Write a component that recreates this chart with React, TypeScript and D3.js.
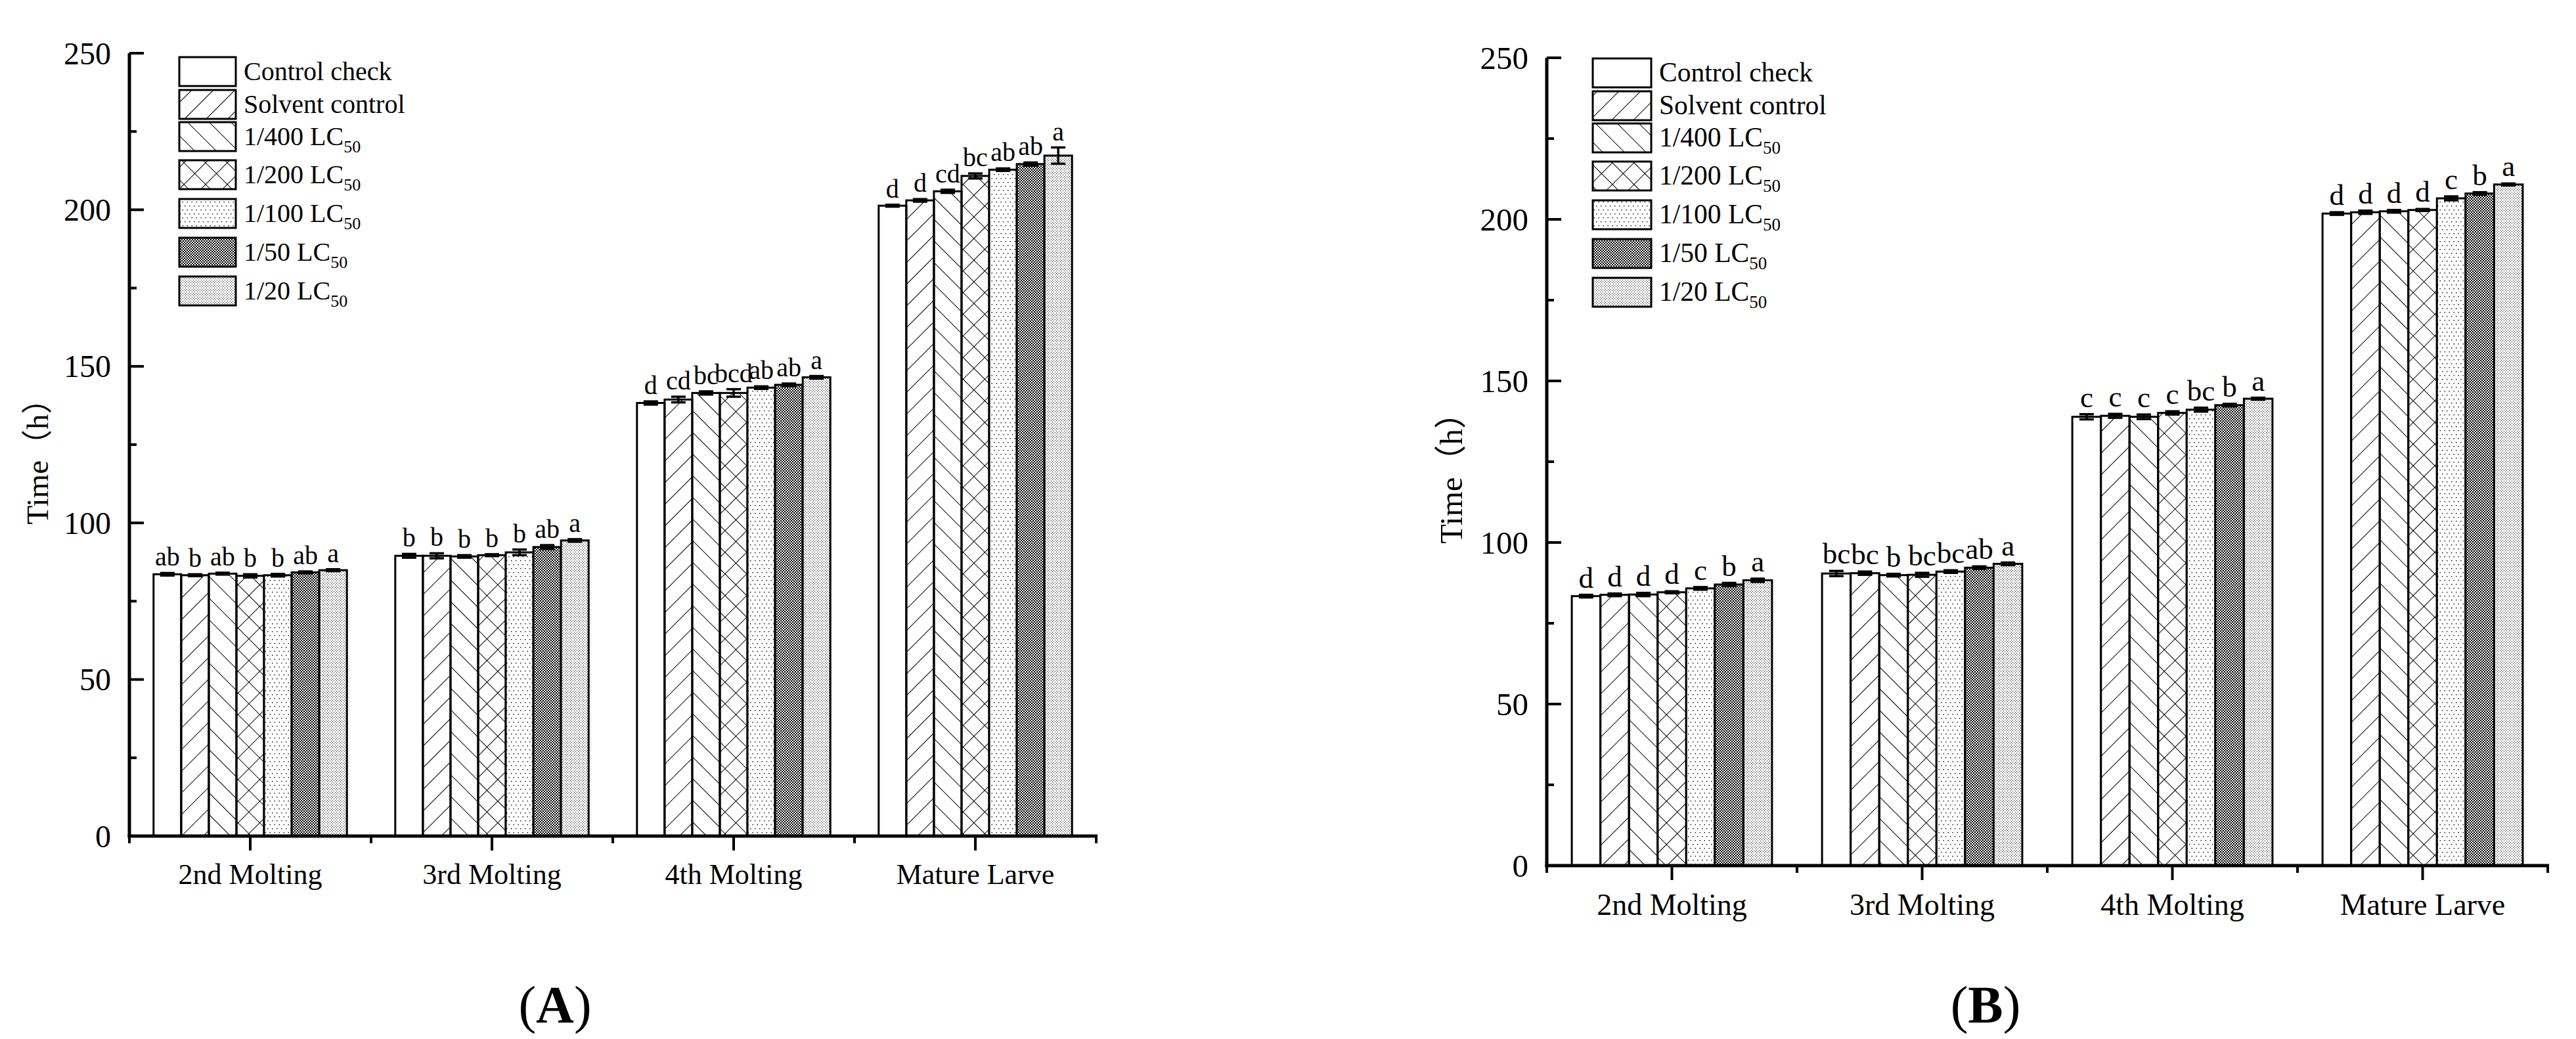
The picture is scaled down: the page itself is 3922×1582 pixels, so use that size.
import React from "react";
import * as d3 from "d3";

// ---------- data ----------
const CATEGORIES = ["2nd Molting", "3rd Molting", "4th Molting", "Mature Larve"];
const SERIES_NAMES = ["Control check", "Solvent control", "1/400 LC", "1/200 LC", "1/100 LC", "1/50 LC", "1/20 LC"];
const SERIES_SUBS = ["", "", "50", "50", "50", "50", "50"];
const Y_TICKS = [0, 50, 100, 150, 200, 250];
const Y_MINOR = [25, 75, 125, 175, 225];

// Panel A
const A_MOLT2 = [83.6, 83.3, 83.8, 83.1, 83.3, 84.2, 84.9];
const A_MOLT3 = [89.5, 89.5, 89.3, 89.7, 90.6, 92.3, 94.4];
const A_MOLT4 = [138.3, 139.4, 141.5, 141.5, 143.2, 144.1, 146.5];
const A_MATURE = [201.3, 203.0, 205.9, 210.8, 212.8, 214.6, 217.3];
const A_ERR2 = [0.4, 0.3, 0.3, 0.5, 0.4, 0.3, 0.3];
const A_ERR3 = [0.6, 0.8, 0.4, 0.3, 0.9, 0.6, 0.4];
const A_ERR4 = [0.5, 0.9, 0.5, 1.2, 0.4, 0.4, 0.4];
const A_ERRM = [0.3, 0.4, 0.5, 0.8, 0.4, 0.5, 2.6];
const A_LET2 = ["ab", "b", "ab", "b", "b", "ab", "a"];
const A_LET3 = ["b", "b", "b", "b", "b", "ab", "a"];
const A_LET4 = ["d", "cd", "bc", "bcd", "ab", "ab", "a"];
const A_LETM = ["d", "d", "cd", "bc", "ab", "ab", "a"];

// Panel B
const B_MOLT2 = [83.4, 83.8, 83.9, 84.6, 85.8, 87.0, 88.3];
const B_MOLT3 = [90.4, 90.5, 89.9, 90.0, 91.0, 92.2, 93.4];
const B_MOLT4 = [138.9, 139.2, 138.9, 140.1, 141.1, 142.5, 144.5];
const B_MATURE = [201.8, 202.2, 202.5, 202.9, 206.5, 208.0, 210.8];
const B_ERR2 = [0.4, 0.4, 0.5, 0.3, 0.4, 0.5, 0.5];
const B_ERR3 = [0.8, 0.5, 0.4, 0.6, 0.4, 0.4, 0.4];
const B_ERR4 = [0.8, 0.6, 0.7, 0.5, 0.6, 0.4, 0.3];
const B_ERRM = [0.4, 0.5, 0.4, 0.3, 0.6, 0.4, 0.3];
const B_LET2 = ["d", "d", "d", "d", "c", "b", "a"];
const B_LET3 = ["bc", "bc", "b", "bc", "bc", "ab", "a"];
const B_LET4 = ["c", "c", "c", "c", "bc", "b", "a"];
const B_LETM = ["d", "d", "d", "d", "c", "b", "a"];

const SERIF = "'Liberation Serif', 'Times New Roman', serif";
const LEGEND_OFFSETS = [0, 50, 99, 157, 216, 275, 334];

function Patterns() {
  return (
    <defs>
      <pattern id="p1" patternUnits="userSpaceOnUse" width="23.3" height="23.3" patternTransform="rotate(45)">
        <line x1="0" y1="-1" x2="0" y2="24.3" stroke="#000" strokeWidth="2" />
      </pattern>
      <pattern id="p2" patternUnits="userSpaceOnUse" width="23.3" height="23.3" patternTransform="rotate(-45)">
        <line x1="0" y1="-1" x2="0" y2="24.3" stroke="#000" strokeWidth="2" />
      </pattern>
      <pattern id="p3" patternUnits="userSpaceOnUse" width="23.3" height="23.3" patternTransform="rotate(45)">
        <line x1="0" y1="-1" x2="0" y2="24.3" stroke="#000" strokeWidth="2" />
        <line x1="-1" y1="0" x2="24.3" y2="0" stroke="#000" strokeWidth="2" />
      </pattern>
      <pattern id="p4" patternUnits="userSpaceOnUse" width="7" height="12">
        <rect x="0" y="0" width="7" height="12" fill="#fff" />
        <rect x="1" y="1" width="1.4" height="1.4" fill="#000" />
        <rect x="4.5" y="7" width="1.4" height="1.4" fill="#000" />
      </pattern>
      <pattern id="p5" patternUnits="userSpaceOnUse" width="4" height="4">
        <rect x="0" y="0" width="4" height="4" fill="#fff" />
        <rect x="0" y="0" width="2" height="2" fill="#000" />
        <rect x="2" y="2" width="2" height="2" fill="#000" />
      </pattern>
      <pattern id="p6" patternUnits="userSpaceOnUse" width="4" height="4">
        <rect x="0" y="0" width="4" height="4" fill="#fff" />
        <rect x="0" y="0" width="1" height="1" fill="#000" />
        <rect x="2" y="2" width="1" height="1" fill="#000" />
      </pattern>
    </defs>
  );
}

const FILLS = ["#fff", "url(#p1)", "url(#p2)", "url(#p3)", "url(#p4)", "url(#p5)", "url(#p6)"];

type PanelProps = {
  x0: number; x1: number; y0: number; y250: number;
  values: number[][]; errors: number[][]; letters: string[][];
  tickFont: number; xFont: number; legFont: number; letFont: number; yLabFont: number;
  xLabelDy: number; legendX: number; legendTop: number; legendW: number;
  yLabelX: number; yLabelY: number; title: string; titleX: number;
};

function Panel(p: PanelProps) {
  const y = d3.scaleLinear().domain([0, 250]).range([p.y0, p.y250]);
  const g = d3.scaleBand<string>().domain(CATEGORIES).range([p.x0, p.x1]).padding(0);
  const bw = g.bandwidth();
  const inner = d3.scaleBand<number>().domain(d3.range(7)).range([0.1 * bw, 0.9 * bw]).padding(0);
  const w = inner.bandwidth();
  const bounds = d3.range(5).map((i) => p.x0 + i * bw);
  return (
    <g>
      {/* bars */}
      {CATEGORIES.map((c, ci) =>
        p.values[ci].map((v, si) => (
          <rect key={`b${ci}-${si}`} x={(g(c) as number) + (inner(si) as number)} y={y(v)} width={w}
            height={y(0) - y(v)} fill={FILLS[si]} stroke="#000" strokeWidth={3} />
        ))
      )}
      {/* error bars */}
      {CATEGORIES.map((c, ci) =>
        p.values[ci].map((v, si) => {
          const cx = (g(c) as number) + (inner(si) as number) + w / 2;
          const e = p.errors[ci][si];
          return (
            <g key={`e${ci}-${si}`} stroke="#000" strokeWidth={3.5}>
              <line x1={cx} x2={cx} y1={y(v - e)} y2={y(v + e)} />
              <line x1={cx - 11} x2={cx + 11} y1={y(v + e)} y2={y(v + e)} />
              <line x1={cx - 11} x2={cx + 11} y1={y(v - e)} y2={y(v - e)} />
            </g>
          );
        })
      )}
      {/* letters */}
      {CATEGORIES.map((c, ci) =>
        p.values[ci].map((v, si) => {
          const cx = (g(c) as number) + (inner(si) as number) + w / 2;
          const e = p.errors[ci][si];
          return (
            <text key={`l${ci}-${si}`} x={cx} y={y(v + e) - 11} textAnchor="middle"
              fontFamily={SERIF} fontSize={p.letFont} fill="#000">{p.letters[ci][si]}</text>
          );
        })
      )}
      {/* axes */}
      <line x1={p.x0} x2={p.x0} y1={p.y0 + 2.5} y2={y(250)} stroke="#000" strokeWidth={5} />
      <line x1={p.x0 - 2.5} x2={p.x1 + 2} y1={p.y0} y2={p.y0} stroke="#000" strokeWidth={5} />
      {Y_TICKS.map((t) => (
        <g key={`yt${t}`}>
          <line x1={p.x0} x2={p.x0 + 22} y1={y(t)} y2={y(t)} stroke="#000" strokeWidth={4} />
          <text x={p.x0 - 28} y={y(t)} textAnchor="end" dominantBaseline="central"
            fontFamily={SERIF} fontSize={p.tickFont} fill="#000">{t}</text>
        </g>
      ))}
      {Y_MINOR.map((t) => (
        <line key={`ym${t}`} x1={p.x0} x2={p.x0 + 11} y1={y(t)} y2={y(t)} stroke="#000" strokeWidth={4} />
      ))}
      {CATEGORIES.map((c) => {
        const cx = (g(c) as number) + bw / 2;
        return (
          <g key={`xt${c}`}>
            <line x1={cx} x2={cx} y1={p.y0} y2={p.y0 + 22} stroke="#000" strokeWidth={4} />
            <text x={cx} y={p.y0 + p.xLabelDy} textAnchor="middle" fontFamily={SERIF}
              fontSize={p.xFont} fill="#000">{c}</text>
          </g>
        );
      })}
      {bounds.map((b, i) => (
        <line key={`xm${i}`} x1={b} x2={b} y1={p.y0} y2={p.y0 + 11} stroke="#000" strokeWidth={4} />
      ))}
      {/* y label */}
      <text transform={`translate(${p.yLabelX},${p.yLabelY}) rotate(-90)`} textAnchor="middle"
        fontFamily={`'Liberation Serif', 'Times New Roman', 'Noto Sans CJK SC', serif`}
        fontSize={p.yLabFont} fill="#000">Time（h）</text>
      {/* legend */}
      {SERIES_NAMES.map((n, si) => {
        const top = p.legendTop + LEGEND_OFFSETS[si];
        return (
          <g key={`lg${si}`}>
            <rect x={p.legendX} y={top} width={p.legendW} height={44} fill={FILLS[si]} stroke="#000" strokeWidth={3} />
            <text x={p.legendX + p.legendW + 12} y={top + 35} fontFamily={SERIF} fontSize={p.legFont} fill="#000">
              {n}
              {SERIES_SUBS[si] ? (
                <tspan fontSize={p.legFont * 0.65} dy={11}>{SERIES_SUBS[si]}</tspan>
              ) : null}
            </text>
          </g>
        );
      })}
      {/* title */}
      <text x={p.titleX} y={1557} textAnchor="middle" fontFamily={SERIF} fontSize={80} fill="#000">
        (<tspan fontWeight="bold">{p.title}</tspan>)
      </text>
    </g>
  );
}

export default function App() {
  return (
    <svg width={3922} height={1582} style={{ position: "absolute", left: 0, top: 0, background: "#fff" }}>
      <rect x={0} y={0} width={3922} height={1582} fill="#fff" />
      <Patterns />
      <Panel x0={197} x1={1669} y0={1273} y250={81}
        values={[A_MOLT2, A_MOLT3, A_MOLT4, A_MATURE]}
        errors={[A_ERR2, A_ERR3, A_ERR4, A_ERRM]}
        letters={[A_LET2, A_LET3, A_LET4, A_LETM]}
        tickFont={48} xFont={44} legFont={40} letFont={40} yLabFont={47}
        xLabelDy={73} legendX={273} legendTop={87} legendW={86}
        yLabelX={73} yLabelY={691} title="A" titleX={845} />
      <Panel x0={2355} x1={3879} y0={1318} y250={88}
        values={[B_MOLT2, B_MOLT3, B_MOLT4, B_MATURE]}
        errors={[B_ERR2, B_ERR3, B_ERR4, B_ERRM]}
        letters={[B_LET2, B_LET3, B_LET4, B_LETM]}
        tickFont={49} xFont={46} legFont={41.5} letFont={45} yLabFont={49}
        xLabelDy={75} legendX={2425} legendTop={89} legendW={89}
        yLabelX={2226} yLabelY={716} title="B" titleX={3023} />
    </svg>
  );
}
